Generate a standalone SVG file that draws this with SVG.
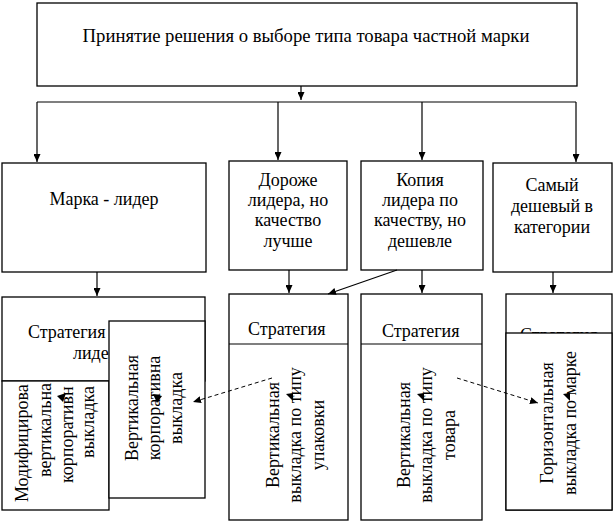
<svg xmlns="http://www.w3.org/2000/svg" width="614" height="524" viewBox="0 0 614 524">
<style>
.b{fill:#fff;stroke:#000;stroke-width:1.3}
.t{font-family:"Liberation Serif","Times New Roman",serif;font-size:18px;fill:#000}
.m{text-anchor:middle}
.c{fill:none;stroke:#000;stroke-width:1.2}
.d{fill:none;stroke:#000;stroke-width:1;stroke-dasharray:4,3}
.h{fill:#000}
</style>
<defs>
<marker id="a" viewBox="0 0 8 7" refX="8" refY="3.5" markerWidth="8" markerHeight="7" markerUnits="userSpaceOnUse" orient="auto">
<path d="M0,0 L8,3.5 L0,7 z" fill="#000"/>
</marker>
<clipPath id="clA"><rect x="2" y="381" width="107" height="129"/></clipPath>
</defs>
<rect width="614" height="524" fill="#fff"/>

<g id="top">
<rect class="b" x="37" y="3" width="540" height="83"/>
<text class="t m" x="306" y="42" style="font-size:18.7px">Принятие решения о выборе типа товара частной марки</text>
</g>

<g id="n1">
<rect class="b" x="2" y="163" width="204" height="109"/>
<text class="t m" x="104" y="205">Марка - лидер</text>
</g>
<g id="n2">
<rect class="b" x="229" y="161" width="118" height="109"/>
<text class="t m" x="288" y="186">Дороже</text>
<text class="t m" x="288" y="206">лидера, но</text>
<text class="t m" x="288" y="226">качество</text>
<text class="t m" x="288" y="247">лучше</text>
</g>
<g id="n3">
<rect class="b" x="361" y="161" width="122" height="109"/>
<text class="t m" x="420" y="186">Копия</text>
<text class="t m" x="420" y="206">лидера по</text>
<text class="t m" x="420" y="226">качеству, но</text>
<text class="t m" x="420" y="247">дешевле</text>
</g>
<g id="n4">
<rect class="b" x="493" y="163" width="119" height="109"/>
<text class="t m" x="552" y="191">Самый</text>
<text class="t m" x="552" y="212">дешевый в</text>
<text class="t m" x="552" y="233">категории</text>
</g>

<g id="sA">
<rect class="b" x="2" y="297" width="203" height="84"/>
<text class="t" x="28" y="338">Стратегия</text>
<text class="t" x="73" y="359">лидер</text>
<rect class="b" x="2" y="381" width="107" height="129"/>
<g clip-path="url(#clA)">
<text class="t" transform="translate(28,502) rotate(-90)">Модифицирова</text>
<text class="t" transform="translate(51,477) rotate(-90)">вертикальна</text>
<text class="t" transform="translate(73,483) rotate(-90)">корпоративн</text>
<text class="t" transform="translate(94,458) rotate(-90)">выкладка</text>
</g>
<polygon class="h" points="57,396 66,393 63,402"/>
</g>

<g id="sB">
<rect class="b" x="109" y="321" width="96" height="177"/>
<text class="t m" transform="translate(138,408) rotate(-90)">Вертикальная</text>
<text class="t m" transform="translate(160,408) rotate(-90)">корпоративна</text>
<text class="t m" transform="translate(182,408) rotate(-90)">выкладка</text>
<polygon class="h" points="153,394 162,396 157,403"/>
</g>

<g id="s2">
<rect class="b" x="229" y="294" width="119" height="226"/>
<line class="c" x1="229" y1="344" x2="348" y2="344"/>
<text class="t" x="248" y="335">Стратегия</text>
<text class="t m" transform="translate(279,435) rotate(-90)">Вертикальная</text>
<text class="t m" transform="translate(301,435) rotate(-90)">выкладка по типу</text>
<text class="t m" transform="translate(324,435) rotate(-90)">упаковки</text>
<polygon class="h" points="286,394 293,393 293,401"/>
</g>

<g id="s3">
<rect class="b" x="361" y="294" width="121" height="226"/>
<line class="c" x1="361" y1="344" x2="482" y2="344"/>
<text class="t" x="382" y="337">Стратегия</text>
<text class="t m" transform="translate(410,435) rotate(-90)">Вертикальная</text>
<text class="t m" transform="translate(432,435) rotate(-90)">выкладка по типу</text>
<text class="t m" transform="translate(455,435) rotate(-90)">товара</text>
<polygon class="h" points="417,394 424,393 424,401"/>
</g>

<g id="s4">
<rect class="b" x="506" y="294" width="106" height="216"/>
<text class="t" x="520" y="341">Стратегия</text>
<rect class="b" x="506" y="333" width="106" height="177"/>
<text class="t m" transform="translate(553,423) rotate(-90)">Горизонтальная</text>
<text class="t m" transform="translate(576,423) rotate(-90)">выкладка по марке</text>
<polygon class="h" points="563,394 570,393 570,401"/>
</g>

<g id="connectors">
<path class="c" d="M301,86 V100" marker-end="url(#a)"/>
<path class="c" d="M37,102 H576"/>
<path class="c" d="M37,102 V162" marker-end="url(#a)"/>
<path class="c" d="M278,102 V160" marker-end="url(#a)"/>
<path class="c" d="M422,102 V160" marker-end="url(#a)"/>
<path class="c" d="M576,102 V162" marker-end="url(#a)"/>
<path class="c" d="M97,272 V296" marker-end="url(#a)"/>
<path class="c" d="M289,270 V293" marker-end="url(#a)"/>
<path class="c" d="M422,270 V293" marker-end="url(#a)"/>
<path class="c" d="M553,272 V293" marker-end="url(#a)"/>
<path class="c" d="M397,270 L328,294" marker-end="url(#a)"/>
<path class="d" d="M272,378 L193,402" marker-end="url(#a)"/>
<path class="d" d="M457,378 L538,403" marker-end="url(#a)"/>
</g>
</svg>
